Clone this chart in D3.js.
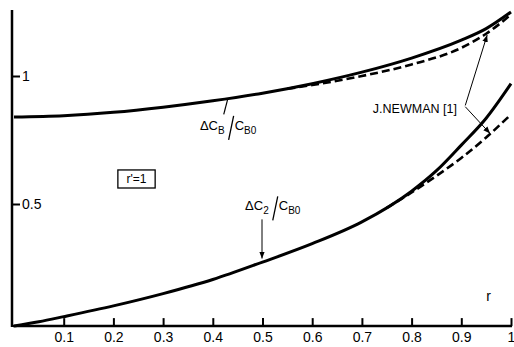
<!DOCTYPE html>
<html><head><meta charset="utf-8">
<script src="https://cdn.jsdelivr.net/npm/d3@7"></script>
<style>
html,body{margin:0;padding:0;background:#fff;}
svg{display:block;font-family:"Liberation Sans",Arial,sans-serif;}
</style></head>
<body>
<svg id="chart" width="514" height="347"></svg>
<script>
// ---- data ----
const xTicks = [0.1,0.2,0.3,0.4,0.5,0.6,0.7,0.8,0.9,1];
const xTickLabels = ["0.1","0.2","0.3","0.4","0.5","0.6","0.7","0.8","0.9","1"];
const yTicks = [0.5,1];
const yTickLabels = ["0.5","1"];

const upperR      = [0,   0.1,  0.2,  0.3,  0.4,   0.5,   0.6,  0.7,   0.8,  0.9,  0.95,  1.0];
const upperSolid  = [0.84,0.845,0.858,0.878,0.903, 0.933, 0.97, 1.015, 1.07, 1.14, 1.185, 1.25];
const upperDashR  = [0.55, 0.6,   0.7,  0.8,   0.9,  0.95,  1.0];
const upperDashed = [0.95, 0.965, 1.0,  1.045, 1.11, 1.165, 1.24];

const lowerR      = [0,     0.05, 0.1,  0.2,  0.3,  0.4,   0.5,   0.6,   0.7,  0.8,  0.85, 0.9,  0.95, 1.0];
const lowerSolid  = [0.023, 0.04, 0.06, 0.102,0.15, 0.205, 0.273, 0.345, 0.43, 0.55, 0.63, 0.73, 0.835,0.97];
const lowerDashR  = [0.75, 0.8,   0.85, 0.9,  0.95, 1.0];
const lowerDashed = [0.485,0.545, 0.61, 0.68, 0.76, 0.85];

const axisBase = 0.023;   // value at which the r axis is drawn

// ---- layout ----
const svg = d3.select("#chart");
const x = d3.scaleLinear().domain([0,1]).range([14,511]);
const y = d3.scaleLinear().domain([0,1.3]).range([332,332-1.3*256]);
const x0 = x(0), yb = y(axisBase);

const line = d3.line().x(d=>x(d[0])).y(d=>y(d[1])).curve(d3.curveMonotoneX);
const zip = (a,b)=>a.map((v,i)=>[v,b[i]]);

// axes
const xAxis = d3.axisBottom(x).tickValues(xTicks)
  .tickFormat((d,i)=>xTickLabels[i]).tickSizeInner(-8).tickSizeOuter(0).tickPadding(6);
const gx = svg.append("g").attr("transform",`translate(0,${yb})`).call(xAxis);
gx.select(".domain").remove();
gx.selectAll(".tick line").attr("stroke","#000").attr("stroke-width",2);
gx.selectAll(".tick text").attr("font-size",14).attr("fill","#000").attr("font-family","Liberation Sans, Arial, sans-serif");
svg.append("line").attr("x1",x0-1).attr("x2",x(1)+1).attr("y1",yb).attr("y2",yb)
  .attr("stroke","#000").attr("stroke-width",2.5);

const yAxis = d3.axisRight(y).tickValues(yTicks)
  .tickFormat((d,i)=>yTickLabels[i]).tickSizeInner(8).tickSizeOuter(0).tickPadding(2);
const gy = svg.append("g").attr("transform",`translate(${x0-2},0)`).call(yAxis);
gy.select(".domain").remove();
gy.selectAll(".tick line").attr("stroke","#000").attr("stroke-width",2);
gy.selectAll(".tick text").attr("font-size",14).attr("fill","#000").attr("font-family","Liberation Sans, Arial, sans-serif");
svg.append("line").attr("x1",x0-2).attr("x2",x0-2).attr("y1",10).attr("y2",yb+1)
  .attr("stroke","#000").attr("stroke-width",2.5);

// curves
svg.append("path").attr("d",line(zip(upperR,upperSolid))).attr("fill","none").attr("stroke","#000").attr("stroke-width",3);
svg.append("path").attr("d",line(zip(upperDashR,upperDashed))).attr("fill","none").attr("stroke","#000").attr("stroke-width",2.6).attr("stroke-dasharray","8,4");
svg.append("path").attr("d",line(zip(lowerR,lowerSolid))).attr("fill","none").attr("stroke","#000").attr("stroke-width",3);
svg.append("path").attr("d",line(zip(lowerDashR,lowerDashed))).attr("fill","none").attr("stroke","#000").attr("stroke-width",2.6).attr("stroke-dasharray","8,4");

// arrow marker
svg.append("defs").append("marker").attr("id","ah").attr("viewBox","0 0 10 10")
  .attr("refX",10).attr("refY",5).attr("markerWidth",7).attr("markerHeight",7)
  .attr("markerUnits","userSpaceOnUse").attr("orient","auto")
  .append("path").attr("d","M0,1 L10,5 L0,9 Z").attr("fill","#000");

// axis name r
svg.append("text").attr("x",x(0.95)).attr("y",y(0.12)).attr("font-size",14).text("r");

// r'=1 box
svg.append("rect").attr("x",x(0.209)).attr("y",y(0.633)).attr("width",x(0.284)-x(0.209)).attr("height",y(0.5625)-y(0.633))
  .attr("fill","none").attr("stroke","#000").attr("stroke-width",1.3);
svg.append("text").attr("x",(x(0.209)+x(0.284))/2).attr("y",y(0.5625)-5).attr("text-anchor","middle").attr("font-size",12).text("r'=1");

// label helper: ΔC_sub / C_B0
function ratioLabel(rx, vy, sub){
  const g = svg.append("g").attr("transform",`translate(${x(rx)},${y(vy)})`);
  const t = g.append("text").attr("font-size",13);
  t.append("tspan").text("ΔC");
  t.append("tspan").attr("font-size",10).attr("dy",4).text(sub);
  const w1 = t.node().getComputedTextLength();
  g.append("line").attr("x1",w1+9).attr("y1",-14).attr("x2",w1+4).attr("y2",10).attr("stroke","#000").attr("stroke-width",1.3);
  const t2 = g.append("text").attr("x",w1+10).attr("font-size",13);
  t2.append("tspan").text("C");
  t2.append("tspan").attr("font-size",10).attr("dy",4).text("B0");
}
ratioLabel(0.374, 0.79, "B");
ratioLabel(0.465, 0.475, "2");

// ΔCB pointer (short line to curve)
svg.append("line").attr("x1",x(0.422)).attr("y1",y(0.85)).attr("x2",x(0.43)).attr("y2",y(0.91))
  .attr("stroke","#000").attr("stroke-width",1.2);
// ΔC2 arrow
svg.append("line").attr("x1",x(0.499)).attr("y1",y(0.44)).attr("x2",x(0.499)).attr("y2",y(0.287))
  .attr("stroke","#000").attr("stroke-width",1).attr("marker-end","url(#ah)");

// J.NEWMAN [1]
svg.append("text").attr("x",x(0.722)).attr("y",y(0.855)).attr("font-size",12.5).text("J.NEWMAN [1]");
svg.append("line").attr("x1",x(0.908)).attr("y1",y(0.885)).attr("x2",x(0.952)).attr("y2",y(1.16))
  .attr("stroke","#000").attr("stroke-width",1).attr("marker-end","url(#ah)");
svg.append("line").attr("x1",x(0.908)).attr("y1",y(0.88)).attr("x2",x(0.958)).attr("y2",y(0.775))
  .attr("stroke","#000").attr("stroke-width",1).attr("marker-end","url(#ah)");
</script>
</body></html>
